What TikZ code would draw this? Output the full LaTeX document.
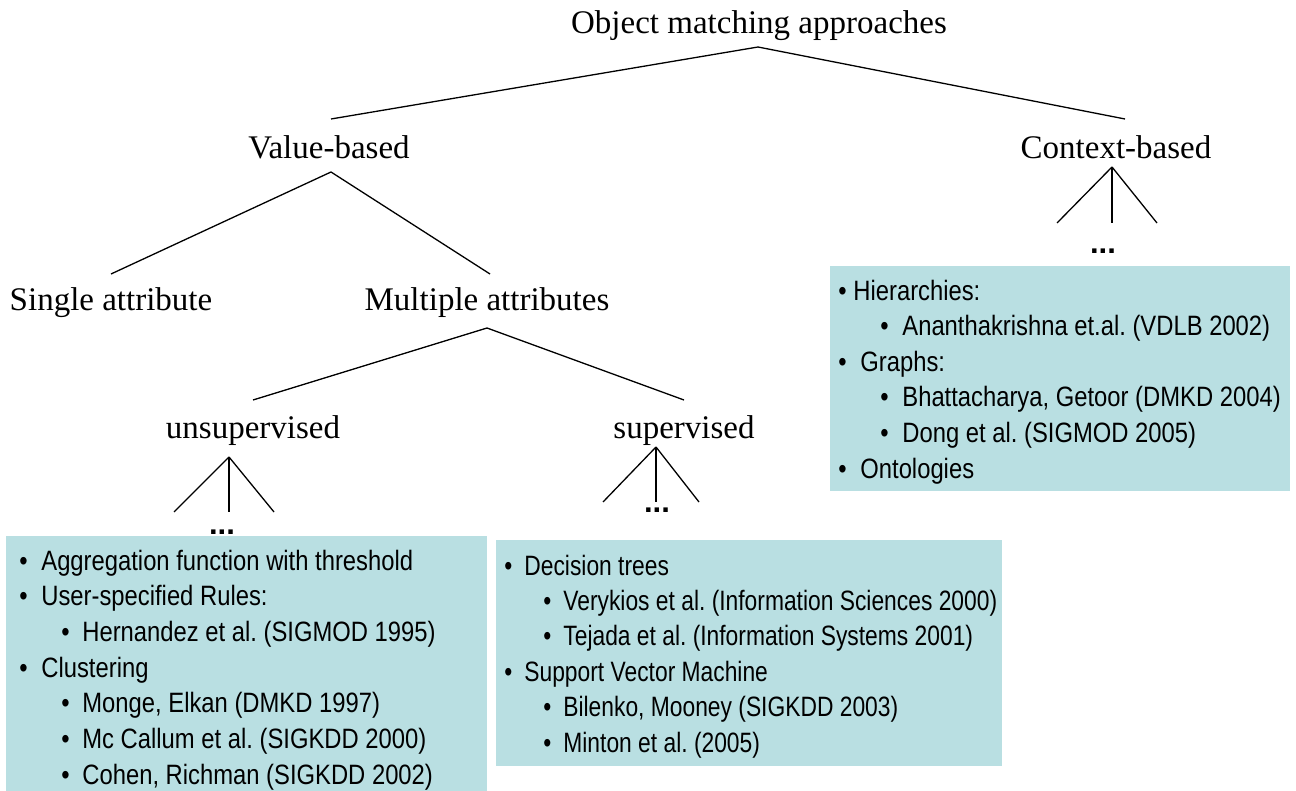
\documentclass[tikz,border=0pt]{standalone}
\usepackage{fontspec}
\setmainfont{Liberation Serif}
\newfontfamily\boxfont[FakeStretch=0.85]{Liberation Sans}
\newfontfamily\boxfontb[FakeStretch=0.815]{Liberation Sans}
\newfontfamily\dotfont{Liberation Sans}
\usetikzlibrary{positioning}
\definecolor{panel}{HTML}{B9DFE2}
\newcommand{\bul}[1]{\makebox[#1][l]{\textbullet}}
\frenchspacing

\begin{document}
\begin{tikzpicture}[x=0.5pt,y=-0.5pt,
  term/.style={anchor=base,inner sep=0pt,font=\fontsize{16.5}{20}\selectfont},
  more/.style={anchor=base,inner sep=0pt,font=\dotfont\bfseries\fontsize{15.5}{18}\selectfont},
  panelbox/.style={anchor=north west,fill=panel,inner sep=0pt},
  entry/.style={anchor=base west,inner sep=0pt,font=\boxfont\fontsize{14}{17}\selectfont},
  branch/.style={line width=0.65pt}]
  \useasboundingbox (0,0) rectangle (1296,791);

  % tree labels
  \node[term] (root) at (759,34) {Object matching approaches};
  \node[term] (value) at (329,159) {Value-based};
  \node[term] (context) at (1116,159) {Context-based};
  \node[term] (single) at (111,311) {Single attribute};
  \node[term] (multi) at (487,311) {Multiple attributes};
  \node[term] (unsup) at (253,438) {unsupervised};
  \node[term] (sup) at (684,438) {supervised};
  \node[more] (unsup-more) at (222,534) {...};
  \node[more] (sup-more) at (657,512) {...};
  \node[more] (context-more) at (1103,254) {...};

  % branch points
  \coordinate (root-j) at (758,47);
  \coordinate (value-t) at (331,119);
  \coordinate (context-t) at (1125,119);
  \coordinate (value-j) at (331,172);
  \coordinate (single-t) at (111,274);
  \coordinate (multi-t) at (490,274);
  \coordinate (multi-j) at (487,328);
  \coordinate (unsup-t) at (253,400);
  \coordinate (sup-t) at (684,400);
  \coordinate (unsup-j) at (229,457);
  \coordinate (unsup-a) at (174,512);
  \coordinate (unsup-b) at (229,512);
  \coordinate (unsup-c) at (274,512);
  \coordinate (sup-j) at (656,447);
  \coordinate (sup-a) at (603,502);
  \coordinate (sup-b) at (656,502);
  \coordinate (sup-c) at (699,502);
  \coordinate (context-j) at (1112,167);
  \coordinate (context-a) at (1057,223);
  \coordinate (context-b) at (1112,223);
  \coordinate (context-c) at (1157,223);

  \draw[branch] (value-t) -- (root-j) -- (context-t);
  \draw[branch] (single-t) -- (value-j) -- (multi-t);
  \draw[branch] (unsup-t) -- (multi-j) -- (sup-t);
  \foreach \p in {unsup,sup,context}
    \foreach \e in {a,b,c}
      \draw[branch] (\p-j) -- (\p-\e);

  % panels
  \node[panelbox,minimum width=240.5pt,minimum height=127.5pt] (ubox) at (6,536) {};
  \node[panelbox,minimum width=253pt,minimum height=113pt] (sbox) at (496,540) {};
  \node[panelbox,minimum width=230pt,minimum height=112.5pt] (cbox) at (830,266) {};

  \foreach \dx/\gap/\txt [count=\i from 0] in {
      19/11pt/{Aggregation function with threshold},
      19/11pt/{User-specified Rules:},
      61/10.5pt/{Hernandez et al. (SIGMOD 1995)},
      19/11pt/{Clustering},
      61/10.5pt/{Monge, Elkan (DMKD 1997)},
      61/10.5pt/{Mc Callum et al. (SIGKDD 2000)},
      61/10.5pt/{Cohen, Richman (SIGKDD 2002)}}
    \node[entry] (u\i) at (\dx,570+35.7*\i) {\bul{\gap}\txt};

  \foreach \dx/\gap/\txt [count=\i from 0] in {
      504/10pt/{Decision trees},
      543/10pt/{Verykios et al. (Information Sciences 2000)},
      543/10pt/{Tejada et al. (Information Systems 2001)},
      504/10pt/{Support Vector Machine},
      543/10pt/{Bilenko, Mooney (SIGKDD 2003)},
      543/10pt/{Minton et al. (2005)}}
    \node[entry,font=\boxfontb\fontsize{14}{17}\selectfont] (s\i) at (\dx,575+35.4*\i) {\bul{\gap}\txt};

  \foreach \dx/\gap/\txt [count=\i from 0] in {
      838/7.5pt/{Hierarchies:},
      880/11pt/{Ananthakrishna et.al. (VDLB 2002)},
      838/11pt/{Graphs:},
      880/11pt/{Bhattacharya, Getoor (DMKD 2004)},
      880/11pt/{Dong et al. (SIGMOD 2005)},
      838/11pt/{Ontologies}}
    \node[entry] (c\i) at (\dx,300+35.6*\i) {\bul{\gap}\txt};
\end{tikzpicture}
\end{document}
